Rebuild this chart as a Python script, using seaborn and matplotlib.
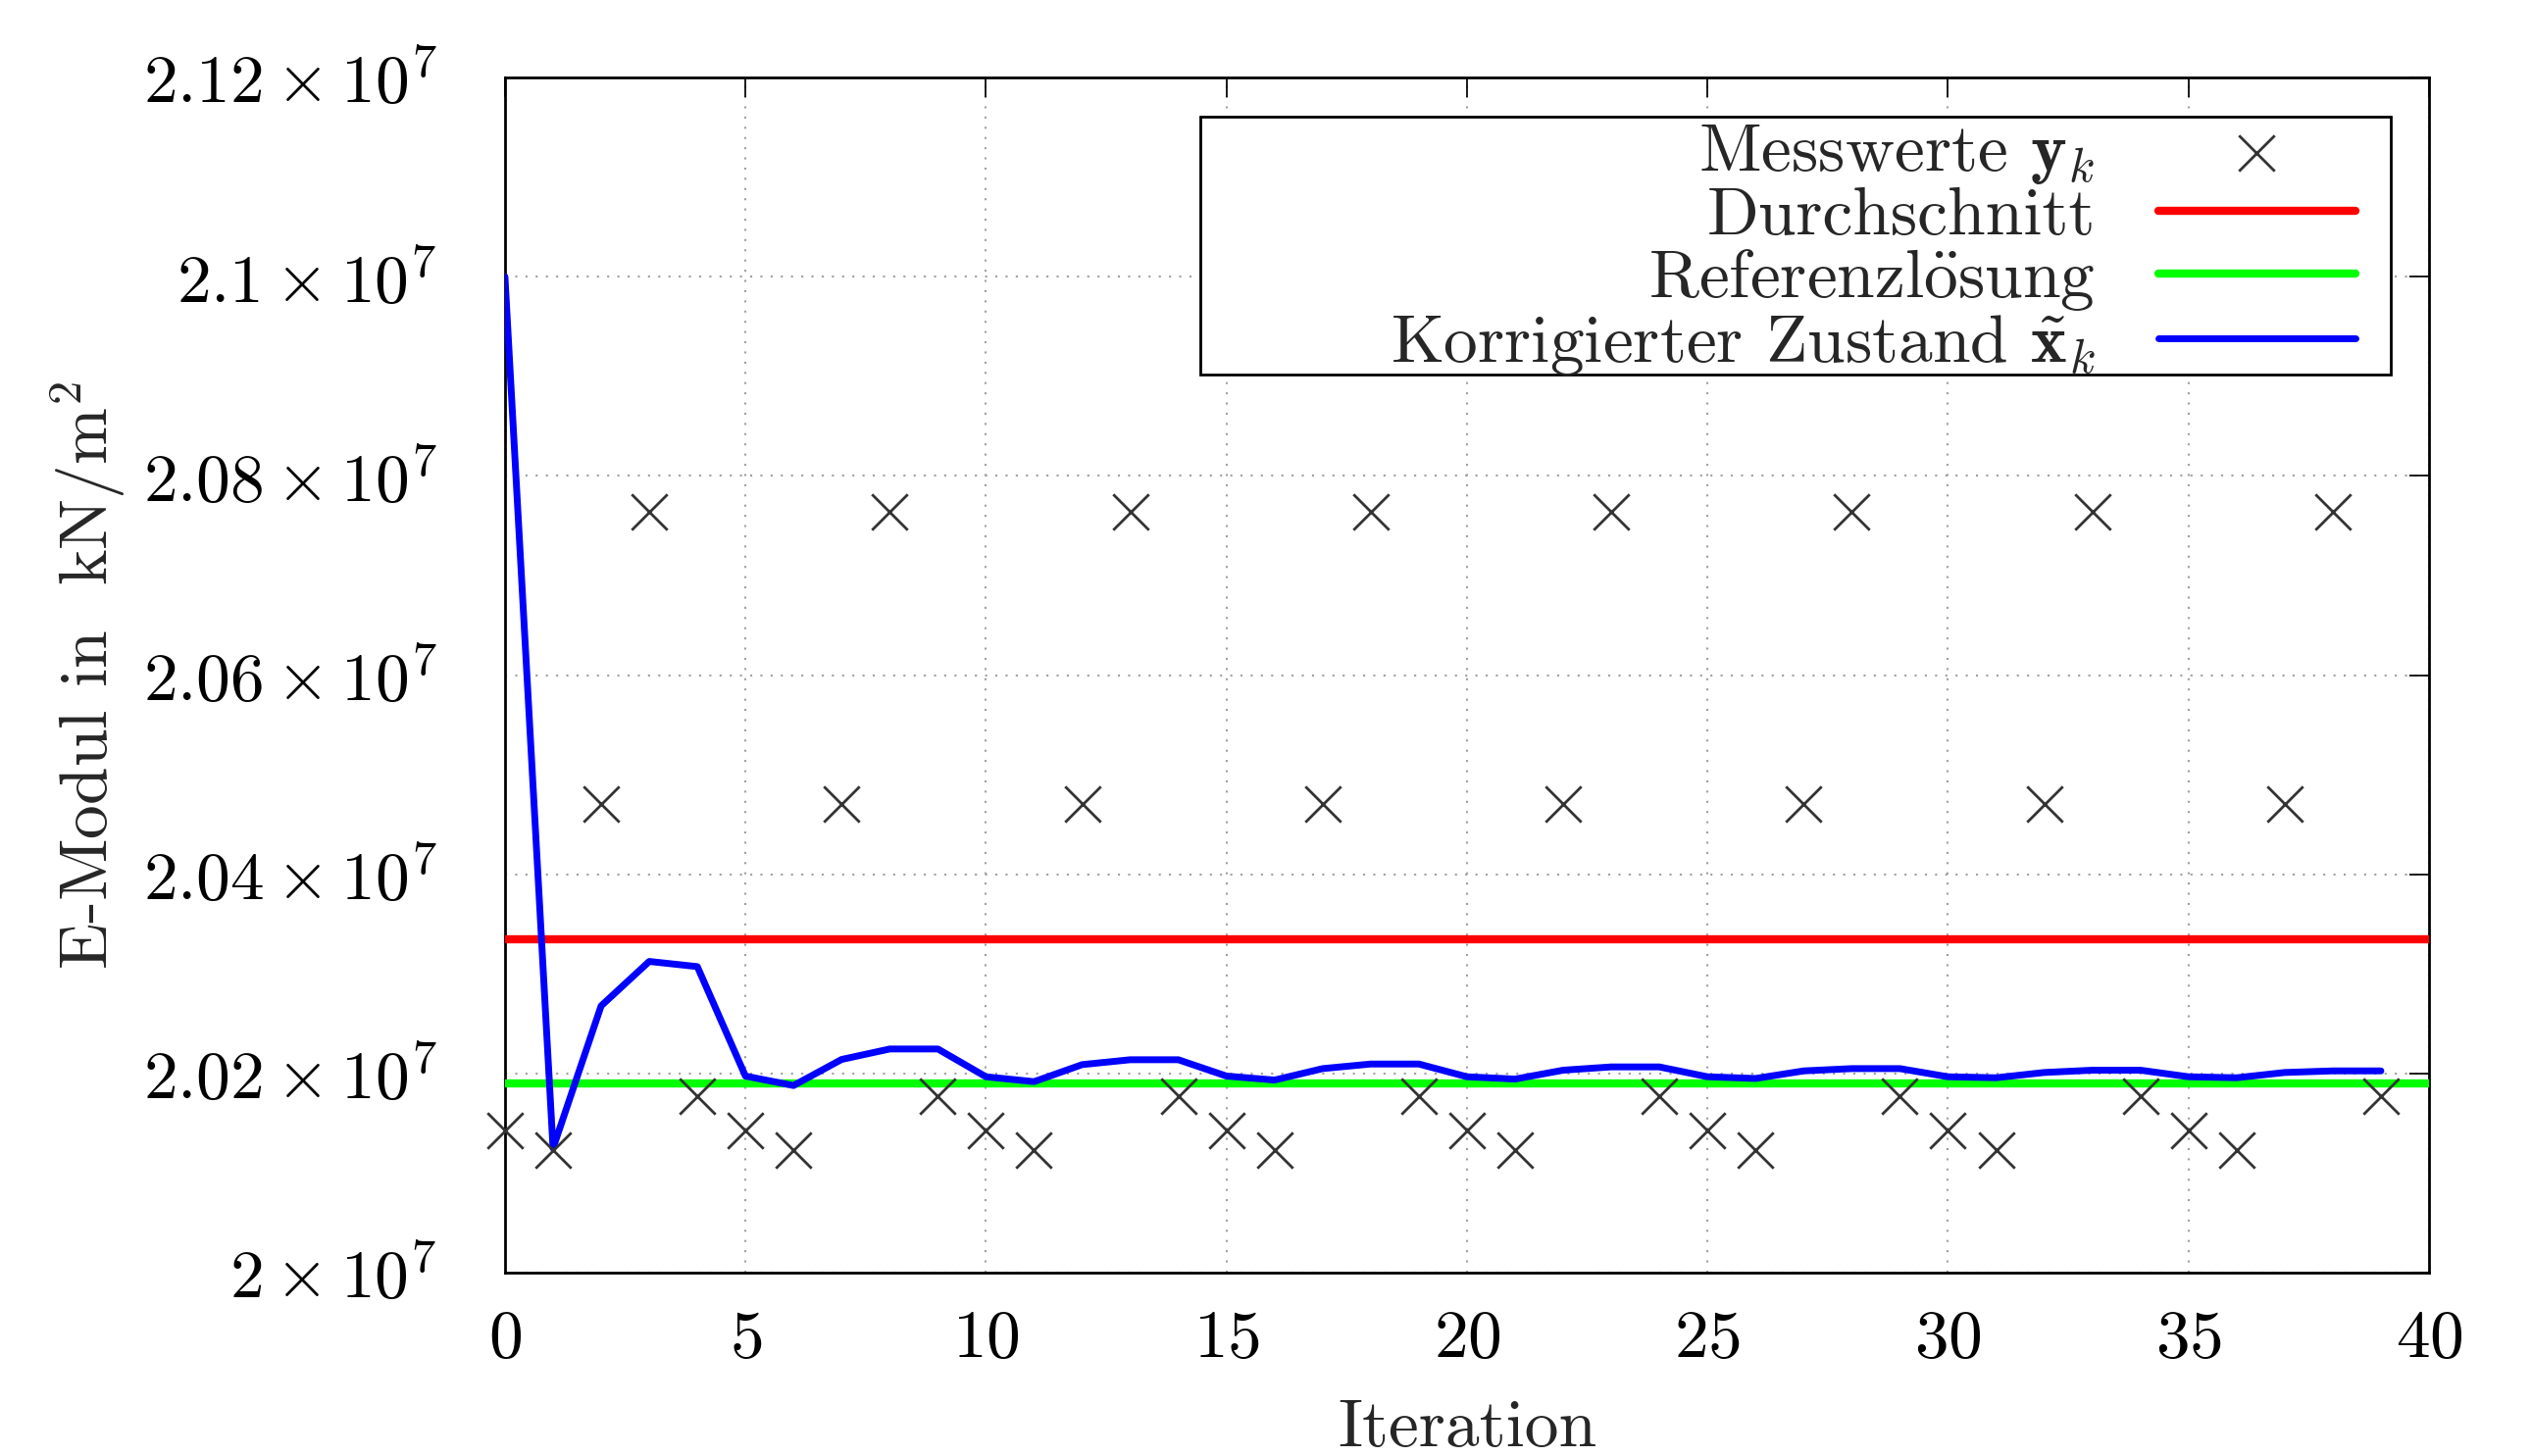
import numpy as np
import pandas as pd
import seaborn as sns
import matplotlib.pyplot as plt
from matplotlib.ticker import FuncFormatter, MultipleLocator
from matplotlib.patches import Rectangle

# Werte
iteration = np.arange(40)
messwerte_zyklus = [2.01432e7, 2.01235e7, 2.04707e7, 2.07643e7, 2.01770e7]
messwerte = np.tile(messwerte_zyklus, 8)
durchschnitt = 2.03351e7
referenz = 2.01900e7
korrigiert = [2.1000e7, 2.0125e7, 2.02679e7, 2.03125e7, 2.03073e7,
              2.01974e7, 2.01879e7, 2.02141e7, 2.02246e7, 2.02246e7,
              2.01967e7, 2.01918e7, 2.02089e7, 2.02138e7, 2.02138e7,
              2.01974e7, 2.01934e7, 2.02049e7, 2.02095e7, 2.02095e7,
              2.01967e7, 2.01944e7, 2.02033e7, 2.02066e7, 2.02066e7,
              2.01967e7, 2.01950e7, 2.02026e7, 2.02049e7, 2.02049e7,
              2.01967e7, 2.01957e7, 2.02010e7, 2.02033e7, 2.02033e7,
              2.01967e7, 2.01957e7, 2.02010e7, 2.02026e7, 2.02026e7]
x_bereich = [0, 40]

df = pd.DataFrame({"k": iteration, "y": messwerte, "x": korrigiert})

sns.set_style("white")
plt.rcParams["font.family"] = ["cmr10", "DejaVu Serif"]
plt.rcParams["mathtext.fontset"] = "cm"
plt.rcParams["axes.unicode_minus"] = False
plt.rcParams["axes.formatter.use_mathtext"] = True

fig = plt.figure(figsize=(10.324, 5.94), dpi=250)
ax = fig.add_axes([0.1995, 0.1259, 0.9597 - 0.1995, 0.9468 - 0.1259])

fs = 20

sns.scatterplot(data=df, x="k", y="y", marker="x", s=110, color="#333333",
                linewidth=0.8, ax=ax, zorder=4, clip_on=False,
                label=r"Messwerte $\mathbf{y}_k$")
ax.plot(x_bereich, [durchschnitt, durchschnitt], color="#ff0000",
        lw=2.4, zorder=3, label="Durchschnitt")
ax.plot(x_bereich, [referenz, referenz], color="#00ff00",
        lw=2.4, zorder=3, label=r"Referenzl$\ddot{\mathrm{o}}$sung")
sns.lineplot(data=df, x="k", y="x", color="#0000ff", lw=2.0, ax=ax, zorder=3,
             label=r"Korrigierter Zustand $\tilde{\mathbf{x}}_k$")

ax.set_xlim(0, 40)
ax.set_ylim(2.0e7, 2.12e7)
ax.xaxis.set_major_locator(MultipleLocator(5))
ax.yaxis.set_major_locator(MultipleLocator(0.02e7))
ax.yaxis.set_major_formatter(FuncFormatter(
    lambda v, p: r"$%s \times 10^{7}$" % f"{v / 1e7:g}"))
ax.xaxis.set_major_formatter(FuncFormatter(lambda v, p: r"$%d$" % v))

ax.tick_params(axis="both", direction="in", length=5.8, width=0.5,
               top=True, right=True, labelsize=fs, colors="black")
ax.tick_params(axis="y", pad=20)
ax.tick_params(axis="x", pad=11)
ax.grid(True, color="#a0a0a0", linestyle=(0, (1, 4)), lw=0.6)
for s in ax.spines.values():
    s.set_color("black")
    s.set_linewidth(0.8)

ax.set_xlabel("Iteration", fontsize=fs, va="center")
ax.set_ylabel(r"E-Modul in  $\mathrm{kN/m}^2$", fontsize=fs, va="center")
ax.xaxis.set_label_coords(0.5, -0.131)
ax.yaxis.set_label_coords(-0.2166, 0.5)

# Legendenrahmen
ax.add_patch(Rectangle((0.3614, 0.7514), 0.980 - 0.3614, 0.9672 - 0.7514,
                       transform=ax.transAxes, facecolor="white",
                       edgecolor="black", lw=0.8, zorder=5))
handles, labels = ax.get_legend_handles_labels()
leg = ax.legend(handles, labels, loc="upper right",
                bbox_to_anchor=(0.9618, 0.962), frameon=False,
                markerfirst=False, fontsize=fs, handlelength=2.9,
                handletextpad=0.92, labelspacing=0.0, borderpad=0,
                borderaxespad=0, numpoints=1, scatterpoints=1)
leg.set_zorder(6)

fig.savefig("out.png", dpi=250)
